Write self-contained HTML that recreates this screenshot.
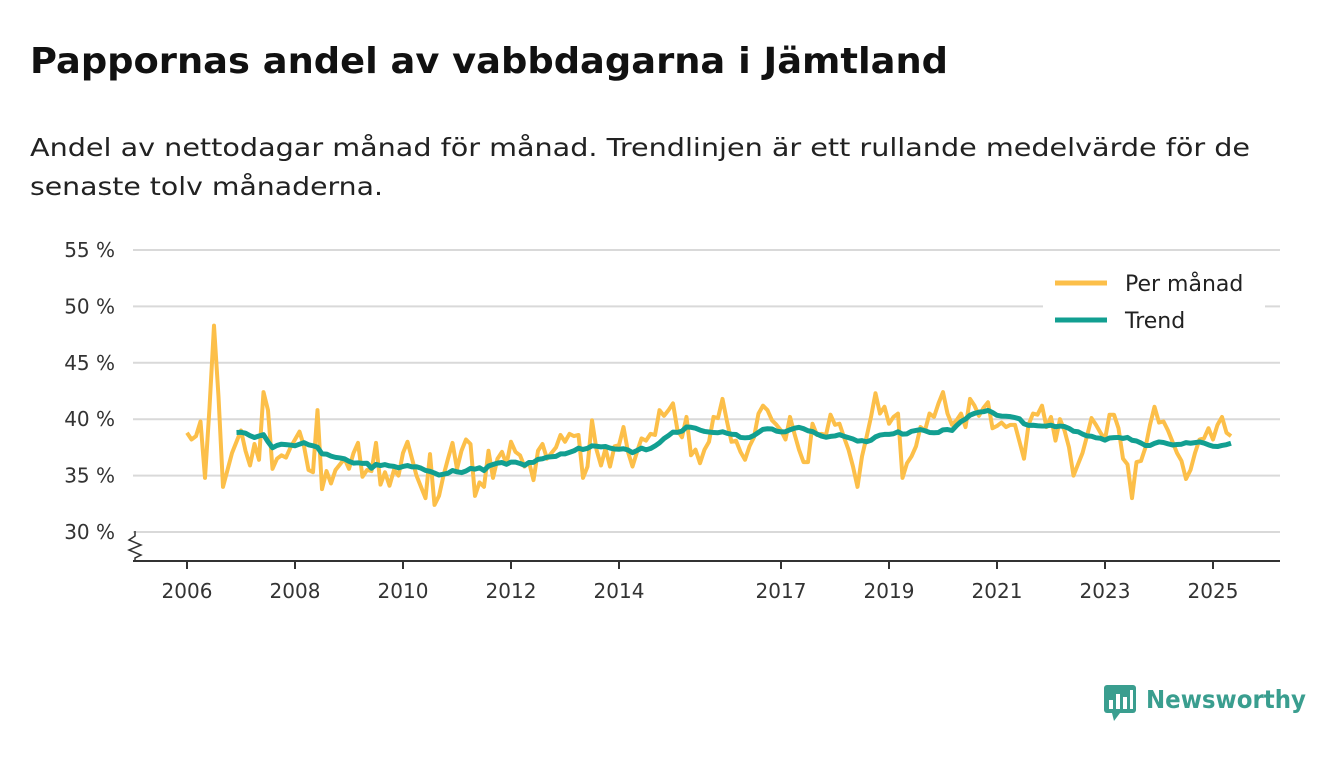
<!DOCTYPE html>
<html><head><meta charset="utf-8"><style>
body{margin:0;background:#fff;width:1340px;height:753px;overflow:hidden;font-family:"DejaVu Sans","Liberation Sans",sans-serif;}
svg text{font-family:"DejaVu Sans","Liberation Sans",sans-serif;}
</style></head><body>
<svg width="1340" height="753">
<text x="30" y="73" font-size="36" font-weight="bold" fill="#111" textLength="918" lengthAdjust="spacingAndGlyphs">Pappornas andel av vabbdagarna i Jämtland</text>
<text x="30" y="156" font-size="25" fill="#222" textLength="1220" lengthAdjust="spacingAndGlyphs">Andel av nettodagar månad för månad. Trendlinjen är ett rullande medelvärde för de</text>
<text x="30" y="195" font-size="25" fill="#222" textLength="353" lengthAdjust="spacingAndGlyphs">senaste tolv månaderna.</text>
<g id="grid"></g><g id="series"></g><g id="axes"></g>
<g>
<rect x="1043" y="262" width="222" height="80" fill="#fff"/>
<line x1="1055" y1="283" x2="1107" y2="283" stroke="#fcbf49" stroke-width="5"/>
<text x="1125" y="291" font-size="22" fill="#222">Per månad</text>
<line x1="1055" y1="320" x2="1107" y2="320" stroke="#129f91" stroke-width="5"/>
<text x="1125" y="328" font-size="22" fill="#222">Trend</text>
</g>
<g>
<rect x="1104" y="685" width="32" height="28" rx="3" fill="#3a9e8f"/>
<polygon points="1112,713 1120,713 1114,721" fill="#3a9e8f"/>
<rect x="1109" y="700" width="4" height="9" fill="#fff"/><rect x="1116" y="694" width="4" height="15" fill="#fff"/><rect x="1123" y="697" width="4" height="12" fill="#fff"/><rect x="1130" y="690" width="3" height="19" fill="#fff"/>
<text x="1146" y="708" font-size="25" font-weight="bold" fill="#3a9e8f" textLength="160" lengthAdjust="spacingAndGlyphs">Newsworthy</text>
</g>
</svg>
<script>
const yTicks=[30,35,40,45,50,55];
const xTickYears=[2006,2008,2010,2012,2014,2017,2019,2021,2023,2025];
const startYear=2006;
const perManad=[
38.8,38.2,38.5,39.8,34.8,41,48.3,42,34,35.5,37,38,
39,37.2,35.9,37.8,36.4,42.4,40.8,35.6,36.5,36.8,36.6,37.5,38.2,
38.9,37.6,35.5,35.3,40.8,33.8,35.4,34.3,35.5,36,36.5,35.6,
37,37.9,34.9,35.5,35.4,37.9,34.2,35.3,34.1,35.5,35,37,38,
36.5,35,34,33,36.9,32.4,33.2,35,36.5,37.9,35.6,37.2,
38.2,37.8,33.2,34.4,34,37.2,34.8,36.5,37.1,36,38,37.1,
36.8,35.8,36.2,34.6,37.2,37.8,36.5,37,37.5,38.6,38,38.7,
38.5,38.6,34.8,35.8,
39.9,37.3,35.9,37.4,35.8,37.6,37.7,39.3,37.1,35.8,
37.1,38.3,38.1,38.7,38.6,40.8,40.3,40.8,41.4,39,
38.4,40.2,36.8,37.3,36.1,37.3,38,40.2,40.1,41.8,
39.8,38,38.1,37.1,36.4,37.6,38.4,40.5,41.2,40.8,
39.9,39.5,39,38.2,
40.2,38.7,37.3,36.2,36.2,39.6,38.6,38.7,38.6,40.4,
39.5,39.6,38.4,37.3,35.8,34,36.7,38.4,40.2,42.3,
40.5,41.1,39.6,40.2,40.5,34.8,36.1,36.7,37.6,39.3,
39,40.5,40.2,41.4,42.4,40.5,39.5,39.9,40.5,39.3,
41.8,41.2,40.3,41,
41.5,39.2,39.4,39.7,39.3,39.5,39.5,38,36.5,39.5,
40.5,40.4,41.2,39.3,40.2,38.1,40,39,37.5,35,
36,37,38.5,40.1,39.5,38.8,38.2,40.4,40.4,39.2,
36.5,36,33,36.2,36.3,37.5,39.5,41.1,39.7,39.8,
39,38,37,36.3,34.7,35.5,37,38.2,38.3,39.2,
38.2,39.5,40.2,38.8,38.5];
const NS="http://www.w3.org/2000/svg";
const x0=187,pxPerYear=54,yBase=532,pxPerPct=11.28;
function xs(i){return x0+i*pxPerYear/12;}
function ys(v){return yBase-(v-30)*pxPerPct;}
function mk(t,a,p){const e=document.createElementNS(NS,t);for(const k in a)e.setAttribute(k,a[k]);p.appendChild(e);return e;}
const grid=document.getElementById('grid'),axes=document.getElementById('axes'),ser=document.getElementById('series');
yTicks.forEach(v=>{
 const l=mk('line',{x1:133,x2:1280,y1:ys(v),y2:ys(v),stroke:'#d9d9d9','stroke-width':2},grid);
 
 
 const t=mk('text',{x:115,y:ys(v)+7,'font-size':20,fill:'#333','text-anchor':'end'},axes);
 t.textContent=v+' %';
 
 
});
const ax=mk('line',{x1:133,x2:1280,y1:561,y2:561,stroke:'#333','stroke-width':2},axes);


const zz=mk('polyline',{points:'135,531 135,536 129,540 141,545 129,550 141,555 135,558 135,561',fill:'none',stroke:'#333','stroke-width':1.5},axes);


xTickYears.forEach(y=>{
 const x=xs((y-startYear)*12);
 mk('line',{x1:x,x2:x,y1:561,y2:569,stroke:'#333','stroke-width':2},axes);
 const t=mk('text',{x:x,y:598,'font-size':20,fill:'#333','text-anchor':'middle'},axes);
 t.textContent=y;
 
 
});
const p1=mk('polyline',{points:perManad.map((v,i)=>xs(i)+','+ys(v)).join(' '),fill:'none',stroke:'#fcbf49','stroke-width':4,'stroke-linejoin':'round'},ser);


const tr=[];
for(let i=11;i<perManad.length;i++){let s=0;for(let j=i-11;j<=i;j++)s+=perManad[j];tr.push(xs(i)+','+ys(s/12));}
const p2=mk('polyline',{points:tr.join(' '),fill:'none',stroke:'#129f91','stroke-width':5,'stroke-linejoin':'round'},ser);


</script>
</body></html>
